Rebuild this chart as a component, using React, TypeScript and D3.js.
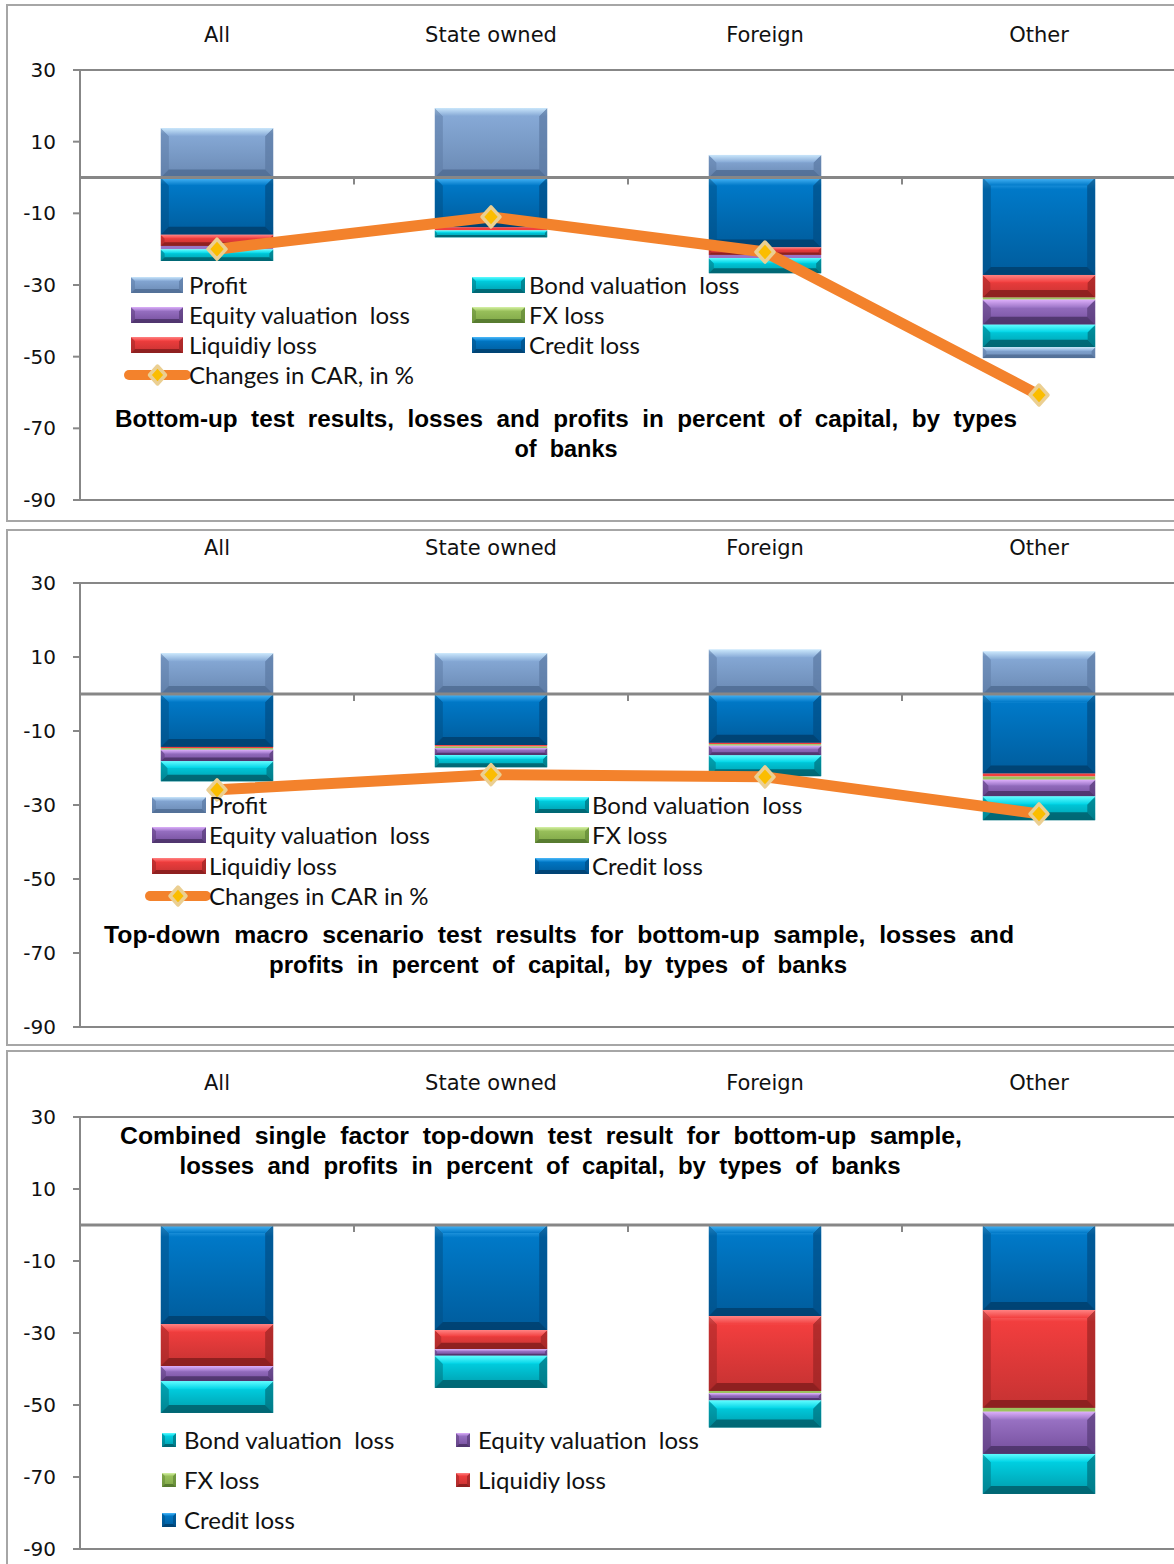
import React from "react";
import * as d3 from "d3";

// Bank groups shown along the top of every panel
const categories = ["All", "State owned", "Foreign", "Other"];
const tickValues = [30, 10, -10, -30, -50, -70, -90];

// Bottom-up test results (percent of capital)
const buProfit = [13.8, 19.4, 6.3, -3.0];
const buCredit = [-16.0, -13.9, -19.5, -27.2];
const buLiquidity = [-3.1, -0.9, -2.1, -6.3];
const buFx = [0, 0, 0, -0.6];
const buEquity = [-1.0, 0, -0.9, -7.0];
const buBond = [-3.2, -1.9, -4.2, -6.3];
const buCar = [-20.0, -11.0, -20.8, -60.7];

// Top-down macro scenario results for the bottom-up sample
const tdProfit = [11.0, 11.0, 12.0, 11.5];
const tdCredit = [-14.3, -13.8, -13.2, -21.5];
const tdLiquidity = [-0.3, -0.4, -0.35, -0.8];
const tdFx = [-0.5, -0.4, -0.45, -0.9];
const tdEquity = [-3.1, -1.9, -2.6, -4.5];
const tdBond = [-5.4, -3.3, -5.6, -6.4];
const tdCar = [-25.9, -21.8, -22.4, -32.4];

// Combined single factor top-down results
const sfCredit = [-27.5, -29.2, -25.3, -23.6];
const sfLiquidity = [-11.7, -5.3, -20.8, -27.2];
const sfFx = [0, 0, -0.65, -1.1];
const sfEquity = [-4.2, -1.85, -2.0, -11.7];
const sfBond = [-8.8, -8.9, -7.5, -11.1];

const seriesKeys = ["credit", "liquidity", "fx", "equity", "bond", "profit"];

const seriesLabels: Record<string, string> = {
  profit: "Profit",
  bond: "Bond valuation  loss",
  equity: "Equity valuation  loss",
  fx: "FX loss",
  liquidity: "Liquidiy loss",
  credit: "Credit loss",
};

type Shade = { top: string; mid: string; low: string; side: string; bottom: string };
const shades: Record<string, Shade> = {
  profit: { top: "#c9e6fb", mid: "#86a9d6", low: "#6a89b3", side: "#5b79a3", bottom: "#4d6a91" },
  credit: { top: "#4cb9fa", mid: "#0079c8", low: "#005c9c", side: "#004d84", bottom: "#003d6a" },
  liquidity: { top: "#ff8282", mid: "#f23e3e", low: "#c53232", side: "#9a2424", bottom: "#7f1c1c" },
  fx: { top: "#d6f2a6", mid: "#9cc35e", low: "#7ea646", side: "#5f8634", bottom: "#4e712a" },
  equity: { top: "#dcaefa", mid: "#9b74c6", low: "#744e9c", side: "#573a78", bottom: "#472f63" },
  bond: { top: "#5ffcff", mid: "#00d4e6", low: "#009aaa", side: "#006f7c", bottom: "#005a66" },
};

type Row = Record<string, number | string>;
const buildRows = (cols: Record<string, number[]>): Row[] =>
  categories.map((c, i) => {
    const r: Row = { cat: c };
    seriesKeys.forEach((k) => (r[k] = cols[k] ? cols[k][i] : 0));
    return r;
  });

type LegendItem = { key: string; col: number; row: number };
type Panel = {
  frameY: number;
  frameH: number;
  labelY: number;
  plotTop: number;
  plotBottom: number;
  rows: Row[];
  car?: number[];
  carLabel?: string;
  legendStyle: "bar" | "square";
  legendCols: { swatchX: number; swatchW: number; textX: number }[];
  legendRows: number[];
  legendItems: LegendItem[];
  lineLegend?: { x1: number; x2: number; row: number };
  title: { text: string; cx: number; y: number; width: number }[];
};

const panels: Panel[] = [
  {
    frameY: 5,
    frameH: 516,
    labelY: 35,
    plotTop: 70,
    plotBottom: 500,
    rows: buildRows({
      profit: buProfit, credit: buCredit, liquidity: buLiquidity,
      fx: buFx, equity: buEquity, bond: buBond,
    }),
    car: buCar,
    carLabel: "Changes in CAR, in %",
    legendStyle: "bar",
    legendCols: [
      { swatchX: 131, swatchW: 52, textX: 189 },
      { swatchX: 472, swatchW: 53, textX: 529 },
    ],
    legendRows: [285, 315, 345, 375],
    legendItems: [
      { key: "profit", col: 0, row: 0 },
      { key: "bond", col: 1, row: 0 },
      { key: "equity", col: 0, row: 1 },
      { key: "fx", col: 1, row: 1 },
      { key: "liquidity", col: 0, row: 2 },
      { key: "credit", col: 1, row: 2 },
    ],
    lineLegend: { x1: 129, x2: 186, row: 3 },
    title: [
      { text: "Bottom-up  test  results,  losses  and  profits  in  percent  of  capital,  by  types", cx: 566, y: 419, width: 902 },
      { text: "of  banks", cx: 566, y: 449, width: 103 },
    ],
  },
  {
    frameY: 530,
    frameH: 515,
    labelY: 548,
    plotTop: 583,
    plotBottom: 1027,
    rows: buildRows({
      profit: tdProfit, credit: tdCredit, liquidity: tdLiquidity,
      fx: tdFx, equity: tdEquity, bond: tdBond,
    }),
    car: tdCar,
    carLabel: "Changes in CAR in %",
    legendStyle: "bar",
    legendCols: [
      { swatchX: 152, swatchW: 54, textX: 209 },
      { swatchX: 535, swatchW: 54, textX: 592 },
    ],
    legendRows: [805, 835, 866, 896],
    legendItems: [
      { key: "profit", col: 0, row: 0 },
      { key: "bond", col: 1, row: 0 },
      { key: "equity", col: 0, row: 1 },
      { key: "fx", col: 1, row: 1 },
      { key: "liquidity", col: 0, row: 2 },
      { key: "credit", col: 1, row: 2 },
    ],
    lineLegend: { x1: 150, x2: 206, row: 3 },
    title: [
      { text: "Top-down  macro  scenario  test  results  for  bottom-up  sample,  losses  and", cx: 559, y: 935, width: 910 },
      { text: "profits  in  percent  of  capital,  by  types  of  banks", cx: 558, y: 965, width: 578 },
    ],
  },
  {
    frameY: 1051,
    frameH: 540,
    labelY: 1083,
    plotTop: 1117,
    plotBottom: 1549,
    rows: buildRows({
      credit: sfCredit, liquidity: sfLiquidity, fx: sfFx, equity: sfEquity, bond: sfBond,
    }),
    legendStyle: "square",
    legendCols: [
      { swatchX: 162, swatchW: 14, textX: 184 },
      { swatchX: 456, swatchW: 14, textX: 478 },
    ],
    legendRows: [1440, 1480, 1520],
    legendItems: [
      { key: "bond", col: 0, row: 0 },
      { key: "equity", col: 1, row: 0 },
      { key: "fx", col: 0, row: 1 },
      { key: "liquidity", col: 1, row: 1 },
      { key: "credit", col: 0, row: 2 },
    ],
    title: [
      { text: "Combined  single  factor  top-down  test  result  for  bottom-up  sample,", cx: 541, y: 1136, width: 842 },
      { text: "losses  and  profits  in  percent  of  capital,  by  types  of  banks", cx: 540, y: 1166, width: 721 },
    ],
  },
];

const AXIS = "#878787";
const PLOT_LEFT = 80;
const PLOT_RIGHT = 1176;
const LEGEND_FONT = 24;

// A bevelled block like an Excel "angle" bar
function BevelBlock({ x, y, w, h, k, b }: { x: number; y: number; w: number; h: number; k: string; b: number }) {
  const s = shades[k];
  if (h <= 0) return null;
  if (h < 4) return <rect x={x} y={y} width={w} height={h} fill={s.mid} />;
  const bv = Math.min(b, h / 3, w / 3);
  const pts = (a: number[][]) => a.map((p) => p.join(",")).join(" ");
  return (
    <g>
      <rect x={x} y={y} width={w} height={h} fill={`url(#g-${k})`} />
      <polygon points={pts([[x, y], [x + bv, y + bv], [x + bv, y + h - bv], [x, y + h]])} fill={s.side} opacity={0.5} />
      <polygon points={pts([[x + w, y], [x + w - bv, y + bv], [x + w - bv, y + h - bv], [x + w, y + h]])} fill={s.side} opacity={0.7} />
      <polygon points={pts([[x, y + h], [x + bv, y + h - bv], [x + w - bv, y + h - bv], [x + w, y + h]])} fill={s.bottom} opacity={0.8} />
      <polygon points={pts([[x, y], [x + w, y], [x + w - bv, y + bv], [x + bv, y + bv]])} fill={`url(#t-${k})`} />
    </g>
  );
}

// Gold diamond marker with a pale rim
function Diamond({ cx, cy, r }: { cx: number; cy: number; r: number }) {
  const pts = [[0, -r - 1], [r, 0], [0, r + 1], [-r, 0]].map((p) => p.join(",")).join(" ");
  return (
    <g transform={`translate(${cx},${cy})`}>
      <polygon points={pts} fill="#fbbd00" stroke="#ebcf92" strokeWidth={3.5} strokeLinejoin="round" />
    </g>
  );
}

function PanelView({ p }: { p: Panel }) {
  const x = d3.scaleBand<string>().domain(categories).range([PLOT_LEFT, PLOT_RIGHT]).padding(0);
  const y = d3.scaleLinear().domain([-90, 30]).range([p.plotBottom, p.plotTop]);
  const bw = x.bandwidth();
  const barW = bw * 0.41;
  const stacked = d3
    .stack<Row>()
    .keys(seriesKeys)
    .value((d, k) => d[k] as number)
    .offset(d3.stackOffsetDiverging)(p.rows);
  const cx = (c: string) => (x(c) as number) + bw / 2;
  const line = d3
    .line<number>()
    .x((_, i) => cx(categories[i]))
    .y((v) => y(v));

  return (
    <g>
      <rect x={7} y={p.frameY} width={1180} height={p.frameH} fill="#fff" stroke="#a6a6a6" strokeWidth={2} />
      {/* category labels along the top */}
      {categories.map((c) => (
        <text key={c} x={cx(c)} y={p.labelY} textAnchor="middle" dominantBaseline="central"
          fontFamily="DejaVu Sans" fontSize={21} fill="#111">{c}</text>
      ))}
      {/* plot frame */}
      <line x1={73} x2={PLOT_RIGHT} y1={p.plotTop} y2={p.plotTop} stroke={AXIS} strokeWidth={2} />
      <line x1={73} x2={PLOT_RIGHT} y1={p.plotBottom} y2={p.plotBottom} stroke={AXIS} strokeWidth={2} />
      <line x1={PLOT_LEFT} x2={PLOT_LEFT} y1={p.plotTop} y2={p.plotBottom} stroke={AXIS} strokeWidth={2} />
      {tickValues.map((t) => (
        <g key={t}>
          <line x1={73} x2={PLOT_LEFT} y1={y(t)} y2={y(t)} stroke={AXIS} strokeWidth={2} />
          <text x={56} y={y(t)} textAnchor="end" dominantBaseline="central"
            fontFamily="DejaVu Sans" fontSize={20} fill="#111">{t}</text>
        </g>
      ))}
      {/* stacked bars */}
      {stacked.map((s) =>
        s.map((d, i) => {
          const top = y(Math.max(d[0], d[1]));
          const bot = y(Math.min(d[0], d[1]));
          return (
            <BevelBlock key={s.key + i} k={s.key} x={cx(categories[i]) - barW / 2}
              y={top} w={barW} h={bot - top} b={8} />
          );
        })
      )}
      {/* zero axis with category separators */}
      <line x1={PLOT_LEFT} x2={PLOT_RIGHT} y1={y(0)} y2={y(0)} stroke={AXIS} strokeWidth={3} />
      {categories.slice(1).map((c) => (
        <line key={c} x1={x(c) as number} x2={x(c) as number} y1={y(0)} y2={y(0) + 7} stroke={AXIS} strokeWidth={2} />
      ))}
      {/* change in CAR */}
      {p.car && (
        <g>
          <path d={line(p.car) || ""} fill="none" stroke="#f3822c" strokeWidth={11} strokeLinejoin="round" />
          {p.car.map((v, i) => (
            <Diamond key={i} cx={cx(categories[i])} cy={y(v)} r={9} />
          ))}
        </g>
      )}
      {/* legend */}
      {p.legendItems.map((it) => {
        const col = p.legendCols[it.col];
        const cy = p.legendRows[it.row];
        const h = p.legendStyle === "bar" ? 16 : 14;
        return (
          <g key={it.key}>
            <BevelBlock k={it.key} x={col.swatchX} y={cy - h / 2} w={col.swatchW} h={h}
              b={p.legendStyle === "bar" ? 4 : 3} />
            <text x={col.textX} y={cy - 1} dominantBaseline="central" fontFamily="Lato" fontSize={LEGEND_FONT}
              fill="#111" style={{ whiteSpace: "pre" }}>{seriesLabels[it.key]}</text>
          </g>
        );
      })}
      {p.lineLegend && (
        <g>
          <line x1={p.lineLegend.x1} x2={p.lineLegend.x2} y1={p.legendRows[p.lineLegend.row]}
            y2={p.legendRows[p.lineLegend.row]} stroke="#f3822c" strokeWidth={10} strokeLinecap="round" />
          <Diamond cx={(p.lineLegend.x1 + p.lineLegend.x2) / 2} cy={p.legendRows[p.lineLegend.row]} r={8} />
          <text x={p.legendCols[0].textX} y={p.legendRows[p.lineLegend.row] - 1} dominantBaseline="central"
            fontFamily="Lato" fontSize={LEGEND_FONT} fill="#111">{p.carLabel}</text>
        </g>
      )}
      {/* title */}
      {p.title.map((t, i) => (
        <text key={i} x={t.cx} y={t.y} textAnchor="middle" dominantBaseline="central"
          fontFamily="Liberation Sans" fontWeight="bold" fontSize={23} fill="#000"
          textLength={t.width} lengthAdjust="spacingAndGlyphs" style={{ whiteSpace: "pre" }}>{t.text}</text>
      ))}
    </g>
  );
}

export default function App() {
  return (
    <svg width={1174} height={1564} style={{ position: "absolute", left: 0, top: 0, display: "block" }}>
      <defs>
        {Object.entries(shades).map(([k, s]) => (
          <React.Fragment key={k}>
            <linearGradient id={`g-${k}`} x1="0" y1="0" x2="0" y2="1">
              <stop offset="0" stopColor={s.top} />
              <stop offset="0.12" stopColor={s.mid} />
              <stop offset="1" stopColor={s.low} />
            </linearGradient>
            <linearGradient id={`t-${k}`} x1="0" y1="0" x2="0" y2="1">
              <stop offset="0" stopColor={s.top} />
              <stop offset="1" stopColor={s.mid} />
            </linearGradient>
          </React.Fragment>
        ))}
      </defs>
      <rect x={0} y={0} width={1174} height={1564} fill="#fff" />
      {panels.map((p, i) => (
        <PanelView key={i} p={p} />
      ))}
    </svg>
  );
}
